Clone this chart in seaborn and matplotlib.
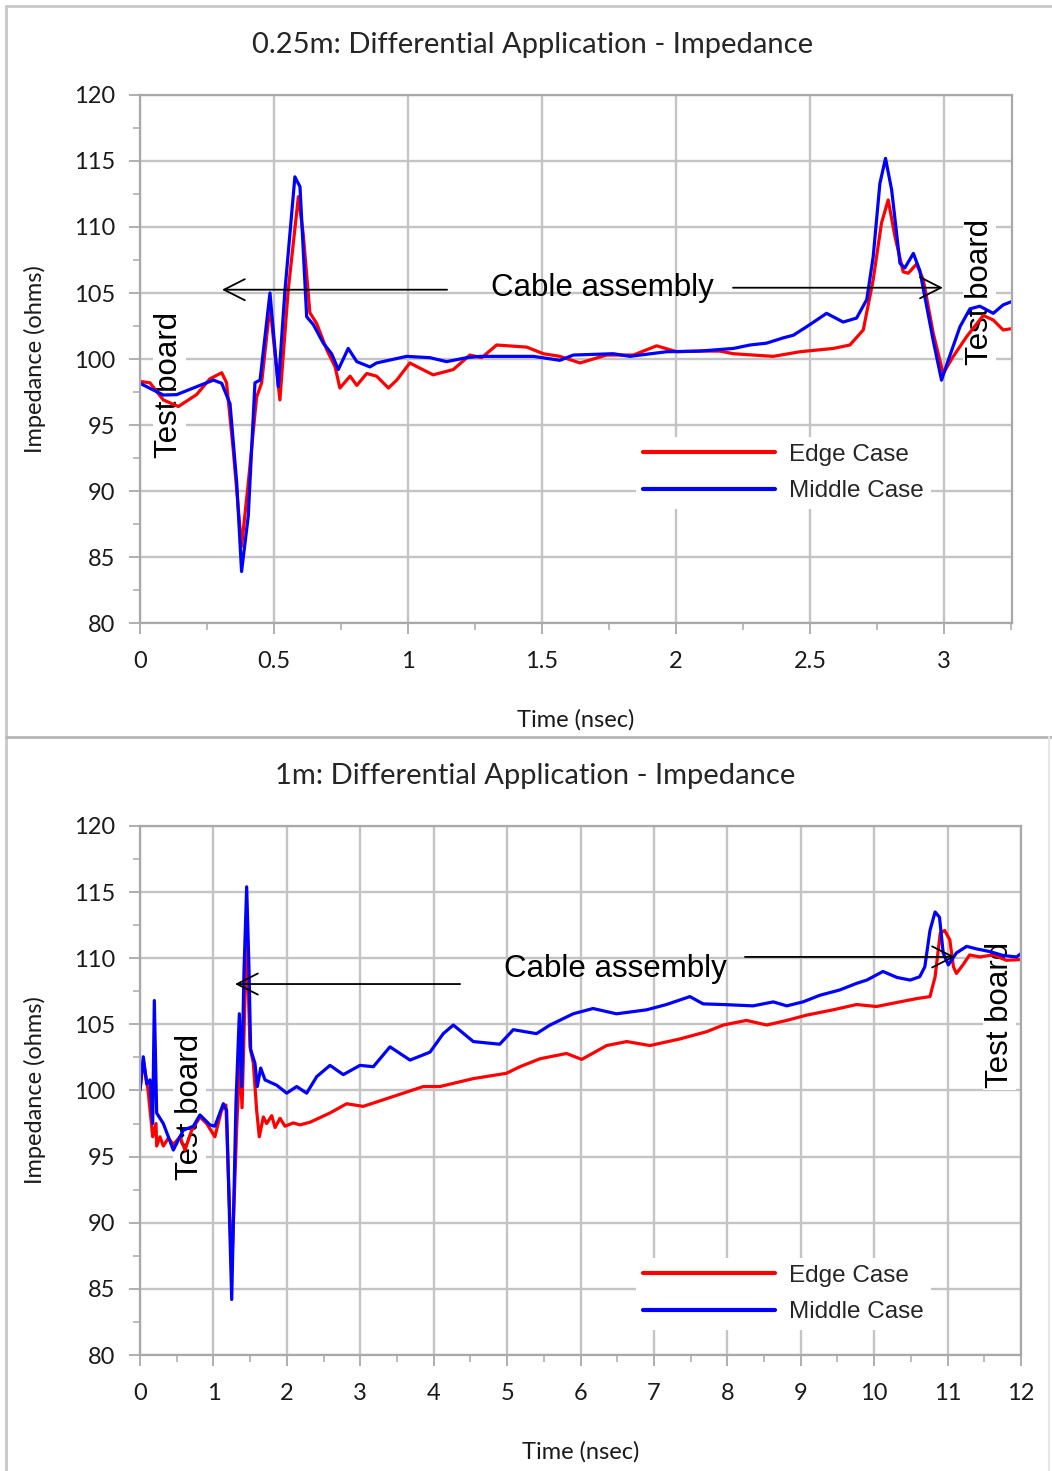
import numpy as np
import pandas as pd
import matplotlib
matplotlib.use("Agg")
import matplotlib.pyplot as plt
import seaborn as sns
from matplotlib.ticker import MultipleLocator, FuncFormatter
from matplotlib.lines import Line2D

# ---------------- data ----------------
top_title = "0.25m: Differential Application - Impedance"
bot_title = "1m: Differential Application - Impedance"
x_label = "Time (nsec)"
y_label = "Impedance (ohms)"
case_names = ["Edge Case", "Middle Case"]

top_edge_t = [0, 0.037, 0.087, 0.143, 0.211, 0.261, 0.305, 0.323, 0.348, 0.379, 0.404, 0.435, 0.454, 0.485,
              0.522, 0.553, 0.591, 0.609, 0.634, 0.659, 0.697, 0.728, 0.746, 0.784, 0.809, 0.846, 0.883, 0.927,
              0.958, 1.007, 1.045, 1.094, 1.169, 1.231, 1.275, 1.331, 1.443, 1.505, 1.567, 1.642, 1.741, 1.841,
              1.928, 2.003, 2.09, 2.164, 2.214, 2.363, 2.463, 2.587, 2.649, 2.699, 2.736, 2.767, 2.792, 2.817,
              2.848, 2.867, 2.898, 2.923, 2.96, 2.997, 3.035, 3.085, 3.147, 3.184, 3.221, 3.253]
top_edge_z = [98.3, 98.2, 96.9, 96.4, 97.3, 98.5, 98.96, 98.2, 93.1, 85.8, 90.6, 97.1, 98.2, 104.0,
              96.9, 105.2, 112.3, 109.5, 103.5, 102.7, 100.7, 99.4, 97.8, 98.7, 98.0, 98.9, 98.7, 97.8,
              98.4, 99.7, 99.3, 98.8, 99.2, 100.3, 100.1, 101.06, 100.9, 100.4, 100.2, 99.7, 100.3, 100.3,
              101.0, 100.55, 100.6, 100.6, 100.4, 100.2, 100.55, 100.8, 101.06, 102.2, 106.0, 110.3, 112.05, 109.3,
              106.6, 106.5, 107.2, 106.0, 101.95, 98.9, 100.2, 101.7, 103.3, 102.95, 102.2, 102.3]

top_mid_t = [0, 0.087, 0.137, 0.211, 0.274, 0.305, 0.336, 0.361, 0.379, 0.404, 0.429, 0.448, 0.485, 0.516,
             0.541, 0.578, 0.597, 0.622, 0.647, 0.684, 0.715, 0.740, 0.777, 0.809, 0.858, 0.883, 0.995, 1.082,
             1.144, 1.219, 1.269, 1.468, 1.567, 1.617, 1.766, 1.828, 1.965, 2.09, 2.214, 2.276, 2.338, 2.4,
             2.438, 2.488, 2.525, 2.562, 2.624, 2.674, 2.712, 2.736, 2.761, 2.782, 2.805, 2.836, 2.854, 2.886,
             2.91, 2.96, 2.991, 3.016, 3.06, 3.097, 3.134, 3.184, 3.221, 3.253]
top_mid_z = [98.16, 97.27, 97.3, 97.9, 98.4, 98.16, 96.6, 90.6, 83.9, 88.1, 98.2, 98.4, 105.0, 97.9,
             105.2, 113.8, 113.05, 103.2, 102.6, 101.2, 100.4, 99.2, 100.8, 99.8, 99.4, 99.7, 100.2, 100.1,
             99.8, 100.1, 100.2, 100.2, 99.9, 100.3, 100.4, 100.2, 100.55, 100.6, 100.8, 101.06, 101.2, 101.6,
             101.8, 102.45, 102.95, 103.46, 102.8, 103.1, 104.5, 107.75, 113.3, 115.2, 112.8, 107.25, 106.9, 108.0,
             106.7, 101.4, 98.4, 99.9, 102.45, 103.8, 104.0, 103.46, 104.1, 104.35]

bot_edge_t = [0, 0.045, 0.11, 0.173, 0.218, 0.227, 0.272, 0.318, 0.386, 0.454, 0.545, 0.613, 0.704, 0.817,
              0.908, 1.02, 1.11, 1.17, 1.249, 1.317, 1.362, 1.39, 1.453, 1.498, 1.543, 1.589, 1.625, 1.68,
              1.725, 1.794, 1.84, 1.907, 1.975, 2.088, 2.179, 2.316, 2.588, 2.815, 3.04, 3.314, 3.587, 3.859,
              4.086, 4.54, 4.99, 5.176, 5.448, 5.81, 6.016, 6.356, 6.63, 6.946, 7.355, 7.72, 7.945, 8.26,
              8.536, 8.81, 9.08, 9.44, 9.76, 10.03, 10.35, 10.58, 10.76, 10.83, 10.9, 10.96, 11.03, 11.08,
              11.12, 11.21, 11.3, 11.44, 11.62, 11.8, 12.0]
bot_edge_z = [100.0, 102.3, 100.0, 96.5, 97.5, 95.8, 96.5, 95.8, 96.4, 95.9, 96.5, 95.5, 97.0, 98.0,
              97.5, 96.5, 98.5, 98.9, 86.4, 97.2, 102.6, 98.7, 111.9, 103.3, 102.1, 98.5, 96.5, 98.0,
              97.5, 98.1, 97.2, 97.9, 97.3, 97.55, 97.4, 97.6, 98.3, 99.0, 98.8, 99.3, 99.8, 100.3,
              100.3, 100.9, 101.3, 101.8, 102.4, 102.8, 102.35, 103.4, 103.7, 103.4, 103.9, 104.45, 104.95, 105.3,
              104.95, 105.3, 105.7, 106.1, 106.5, 106.35, 106.7, 106.95, 107.1, 108.6, 111.9, 112.1, 111.4, 109.35,
              108.85, 109.5, 110.25, 110.1, 110.25, 109.85, 109.9]

bot_mid_t = [0, 0.045, 0.091, 0.136, 0.173, 0.195, 0.227, 0.318, 0.454, 0.59, 0.726, 0.817, 0.953, 1.02,
             1.135, 1.18, 1.249, 1.307, 1.353, 1.385, 1.417, 1.453, 1.485, 1.507, 1.566, 1.598, 1.644, 1.703,
             1.862, 1.998, 2.134, 2.27, 2.407, 2.588, 2.769, 2.996, 3.178, 3.405, 3.678, 3.95, 4.131, 4.268,
             4.54, 4.9, 5.085, 5.4, 5.585, 5.9, 6.17, 6.49, 6.9, 7.17, 7.49, 7.67, 7.945, 8.35, 8.626, 8.81,
             9.03, 9.26, 9.53, 9.76, 9.9, 10.12, 10.31, 10.49, 10.62, 10.69, 10.76, 10.83, 10.89, 10.94, 11.01,
             11.12, 11.26, 11.40, 11.58, 11.76, 11.94, 12.0]
bot_mid_z = [100.04, 102.55, 100.5, 100.8, 97.5, 106.8, 98.3, 97.5, 95.5, 97.0, 97.3, 98.15, 97.4, 97.3,
             99.0, 98.5, 84.2, 99.0, 105.8, 100.3, 109.1, 115.4, 109.1, 103.1, 102.05, 100.3, 101.7, 100.8,
             100.4, 99.8, 100.3, 99.8, 101.05, 101.9, 101.2, 101.9, 101.8, 103.3, 102.3, 102.9, 104.3, 104.95,
             103.7, 103.5, 104.6, 104.3, 104.95, 105.8, 106.2, 105.8, 106.1, 106.5, 107.1, 106.55, 106.5, 106.4,
             106.7, 106.4, 106.7, 107.2, 107.6, 108.1, 108.35, 109.0, 108.55, 108.35, 108.6, 109.35, 112.1, 113.5,
             113.1, 110.4, 109.5, 110.4, 110.9, 110.7, 110.5, 110.2, 110.1, 110.35]

colors = {"Edge Case": "#ff0000", "Middle Case": "#0000ff"}


def make_df(et, ez, mt, mz):
    return pd.concat([
        pd.DataFrame({"t": et, "z": ez, "case": case_names[0]}),
        pd.DataFrame({"t": mt, "z": mz, "case": case_names[1]}),
    ], ignore_index=True)


df_top = make_df(top_edge_t, top_edge_z, top_mid_t, top_mid_z)
df_bot = make_df(bot_edge_t, bot_edge_z, bot_mid_t, bot_mid_z)

# ---------------- figure ----------------
sns.set_theme(style="white")
plt.rcParams["font.family"] = ["Lato", "DejaVu Sans"]

W, H = 1052, 1471
fig = plt.figure(figsize=(W / 100, H / 100), dpi=100)
fig.patch.set_facecolor("white")


def fx(px):
    return px / W


def fy(py):
    return 1 - py / H


ax1 = fig.add_axes([fx(140), fy(623), fx(1012) - fx(140), fy(95) - fy(623)])
ax2 = fig.add_axes([fx(140), fy(1355), fx(1021) - fx(140), fy(826) - fy(1355)])

# panel borders
bc = "#c8c8c8"
fig.add_artist(Line2D([fx(6), fx(6)], [0, fy(6)], color=bc, lw=2))
fig.add_artist(Line2D([fx(6), 1], [fy(6), fy(6)], color=bc, lw=2))
fig.add_artist(Line2D([fx(6), 1], [fy(737), fy(737)], color="#b5b5b5", lw=2))
fig.add_artist(Line2D([fx(1049), fx(1049)], [0, fy(737)], color="#e6e6e6", lw=1.5))

fmt = FuncFormatter(lambda v, p: f"{v:g}")


def style(ax, xmax, xmaj, xmin):
    ax.set_xlim(0, xmax)
    ax.set_ylim(80, 120)
    ax.xaxis.set_major_locator(MultipleLocator(xmaj))
    ax.xaxis.set_minor_locator(MultipleLocator(xmin))
    ax.yaxis.set_major_locator(MultipleLocator(5))
    ax.yaxis.set_minor_locator(MultipleLocator(2.5))
    ax.xaxis.set_major_formatter(fmt)
    ax.yaxis.set_major_formatter(fmt)
    ax.grid(True, which="major", color="#c4c4c4", lw=1.7)
    ax.set_axisbelow(True)
    for s in ax.spines.values():
        s.set_color("#a9a9a9")
        s.set_linewidth(1.6)
    ax.tick_params(which="major", direction="out", length=8, width=1.3, color="#a9a9a9",
                   labelsize=17, labelcolor="#1a1a1a", bottom=True, left=True)
    ax.tick_params(which="minor", direction="out", length=5, width=1.1, color="#a9a9a9",
                   bottom=True, left=True)
    ax.tick_params(axis="x", which="major", pad=12)
    ax.tick_params(axis="y", which="major", pad=10)
    ax.set_xlabel(x_label, fontsize=17, labelpad=27, color="#1a1a1a")
    ax.set_ylabel(y_label, fontsize=17, labelpad=20, color="#1a1a1a")


for ax, df in [(ax1, df_top), (ax2, df_bot)]:
    sns.lineplot(data=df, x="t", y="z", hue="case", palette=colors, estimator=None,
                 sort=True, lw=2.3, ax=ax, legend=False, zorder=2)

style(ax1, 3.254, 0.5, 0.25)
style(ax2, 12.0, 1, 0.5)

fig.text(fx(533), fy(45), top_title, ha="center", va="center", fontsize=21, color="#262626")
fig.text(fx(535), fy(776), bot_title, ha="center", va="center", fontsize=21, color="#262626")

ann_font = "Liberation Sans"
arrow_kw = dict(arrowstyle="->,head_length=0.75,head_width=0.38", color="black", lw=1.3,
                shrinkA=0, shrinkB=0, mutation_scale=20)


def annotate(ax, text_xy, left_arrow, right_arrow, tb_left, tb_right):
    ax.text(*text_xy, "Cable assembly", ha="center", va="center", fontsize=22.5,
            family=ann_font, color="black", zorder=4)
    ax.annotate("", xy=left_arrow[1], xytext=left_arrow[0], arrowprops=arrow_kw, zorder=4)
    ax.annotate("", xy=right_arrow[1], xytext=right_arrow[0], arrowprops=arrow_kw, zorder=4)
    for pos in (tb_left, tb_right):
        ax.text(*pos, "Test board", rotation=90, ha="center", va="center", fontsize=22.5,
                family=ann_font, color="black", zorder=1.5,
                bbox=dict(boxstyle="square,pad=0.05", fc="white", ec="none"))


annotate(ax1, (1.724, 105.35),
         ((1.146, 105.25), (0.306, 105.25)),
         ((2.213, 105.4), (2.996, 105.4)),
         (0.11, 98.0), (3.134, 105.1))
annotate(ax2, (6.48, 109.2),
         ((4.36, 108.05), (1.294, 108.05)),
         ((8.24, 110.1), (11.1, 110.1)),
         (0.68, 98.75), (11.71, 105.7))

handles = [Line2D([], [], color=colors[c], lw=3) for c in case_names]
for ax, anchor in [(ax1, (0.569, 0.353)), (ax2, (0.563, 0.184))]:
    leg = ax.legend(handles, case_names, loc="upper left", bbox_to_anchor=anchor,
                    borderaxespad=0, borderpad=0.3, handlelength=5.4, handletextpad=0.6,
                    labelspacing=0.58, frameon=True, fancybox=False,
                    prop={"family": ann_font, "size": 17.5})
    leg.get_frame().set_facecolor("white")
    leg.get_frame().set_edgecolor("none")
    leg.get_frame().set_alpha(1)
    leg.set_zorder(5)

fig.savefig("out.png", dpi=100, facecolor="white")
